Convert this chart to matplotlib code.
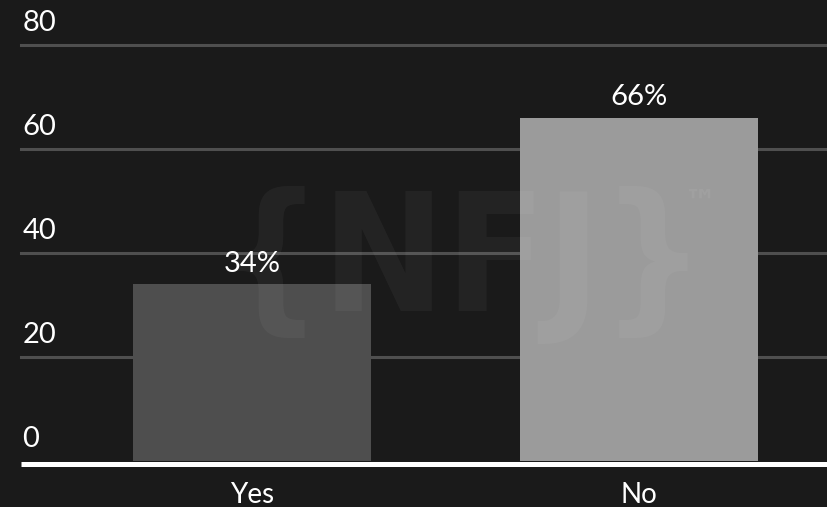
import matplotlib.pyplot as plt
from matplotlib.transforms import ScaledTranslation

categories = ['Yes', 'No']
values = [34, 66]
value_labels = ['34%', '66%']
y_ticks = [0, 20, 40, 60, 80]

bg = '#1a1a1a'
bar_colors = ['#4e4e4e', '#9b9b9b']
grid_color = '#4f4f4f'
font = 'Lato'

fig = plt.figure(figsize=(8.27, 5.07), dpi=100, facecolor=bg)
ax = fig.add_axes([21 / 827, 46 / 507, 806 / 827, 416 / 507])
ax.set_facecolor(bg)

x = range(len(categories))
bars = ax.bar(x, values, width=0.615, color=bar_colors, zorder=2)

ax.set_xlim(-0.597, 1.486)
ax.set_ylim(0, 80)

# grid lines, with the tick numbers sitting on top of each one
for t in y_ticks[1:]:
    ax.axhline(t, color=grid_color, lw=2.2, zorder=1, clip_on=False)
for t in y_ticks:
    ax.annotate(str(t), xy=(0, t), xycoords=('axes fraction', 'data'),
                xytext=(1, 6.5), textcoords='offset points',
                ha='left', va='bottom', color='white', fontsize=21,
                family=font)

# white base line just under the bars
shift = ScaledTranslation(0, -2.5 / 72, fig.dpi_scale_trans)
ax.plot([0, 1], [0, 0], color='white', lw=3.6, zorder=3,
        transform=ax.get_yaxis_transform() + shift, clip_on=False,
        solid_capstyle='butt')

for bar, lab in zip(bars, value_labels):
    ax.annotate(lab, xy=(bar.get_x() + bar.get_width() / 2, bar.get_height()),
                xytext=(0, 5.5), textcoords='offset points',
                ha='center', va='bottom', color='white', fontsize=21,
                family=font)

ax.set_xticks(list(x))
ax.set_xticklabels(categories, color='white', fontsize=20, family=font)
ax.tick_params(axis='x', length=0, pad=15)
ax.set_yticks([])
for s in ax.spines.values():
    s.set_visible(False)

# faint watermark over the plot
fig.text(462 / 827, 1 - 266 / 507, '{NFJ}', ha='center', va='center',
         fontsize=118, fontweight='bold', family='DejaVu Sans',
         fontstretch='condensed', color='white', alpha=0.045, zorder=10)
fig.text(700 / 827, 1 - 203 / 507, '\u2122', ha='center', va='center',
         fontsize=24, fontweight='bold', family='DejaVu Sans',
         color='white', alpha=0.05, zorder=10)

fig.savefig('out.png', dpi=100, facecolor=bg)
